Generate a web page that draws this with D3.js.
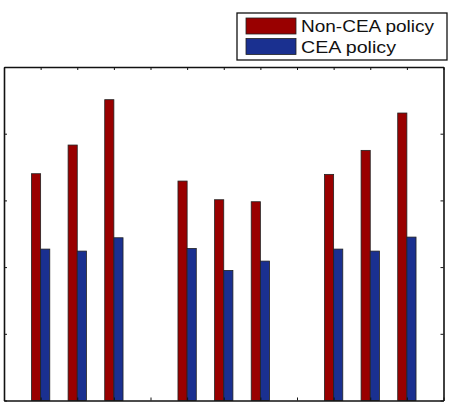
<!DOCTYPE html>
<html><head><meta charset="utf-8">
<script src="https://cdn.jsdelivr.net/npm/d3@7"></script>
<style>html,body{margin:0;padding:0;background:#fff;}</style>
</head><body>
<svg id="c" width="451" height="408"></svg>
<script>
const positions = [1,2,3,5,6,7,9,10,11];
const nonCEA = [3.40,3.83,4.51,3.29,3.01,2.98,3.39,3.75,4.31];
const cea    = [2.27,2.24,2.44,2.28,1.95,2.09,2.27,2.24,2.45];
const seriesNames = ["Non-CEA policy","CEA policy"];
const seriesColors = ["#990000","#1a3090"];
const xTicks = d3.range(0,13);
const yTicks = [0,1,2,3,4,5];

const svg = d3.select("#c");
const x = d3.scaleLinear().domain([0,12]).range([4,443.5]);
const y = d3.scaleLinear().domain([0,5]).range([400.5,67]);
const bw = x(0.25)-x(0);

const g = svg.append("g");
positions.forEach((p,i)=>{
  g.append("rect").attr("x",x(p)-bw).attr("y",y(nonCEA[i])).attr("width",bw)
   .attr("height",y(0)-y(nonCEA[i])).attr("fill",seriesColors[0]).attr("stroke","#222").attr("stroke-width",0.8);
  g.append("rect").attr("x",x(p)).attr("y",y(cea[i])).attr("width",bw)
   .attr("height",y(0)-y(cea[i])).attr("fill",seriesColors[1]).attr("stroke","#222").attr("stroke-width",0.8);
});

const ts = 3;
const axB = d3.axisBottom(x).tickValues(xTicks).tickFormat("").tickSizeInner(-ts).tickSizeOuter(0);
const axT = d3.axisTop(x).tickValues(xTicks).tickFormat("").tickSizeInner(-ts).tickSizeOuter(0);
const axL = d3.axisLeft(y).tickValues(yTicks).tickFormat("").tickSizeInner(-ts).tickSizeOuter(0);
const axR = d3.axisRight(y).tickValues(yTicks).tickFormat("").tickSizeInner(-ts).tickSizeOuter(0);
[[axB,`translate(0,${y(0)})`],[axT,`translate(0,${y(5)})`],[axL,`translate(${x(0)},0)`],[axR,`translate(${x(12)},0)`]].forEach(([a,t])=>{
  const s = svg.append("g").attr("transform",t).call(a);
  s.select(".domain").attr("stroke","#111").attr("stroke-width",1.6);
  s.selectAll(".tick line").attr("stroke","#111").attr("stroke-width",1);
});

// legend
const lg = svg.append("g");
lg.append("rect").attr("x",237).attr("y",13).attr("width",210).attr("height",47)
  .attr("fill","#fff").attr("stroke","#111").attr("stroke-width",1.3);
seriesNames.forEach((n,i)=>{
  lg.append("rect").attr("x",246).attr("y",18+i*20.5).attr("width",50).attr("height",16)
    .attr("fill",seriesColors[i]).attr("stroke","#222").attr("stroke-width",0.8);
  lg.append("text").attr("x",301).attr("y",31.5+i*21.5)
    .attr("font-family","Liberation Sans, Arial, sans-serif").attr("font-size",16)
    .attr("textLength", i===0?133:95).attr("lengthAdjust","spacingAndGlyphs")
    .attr("fill","#111").text(n);
});
</script>
</body></html>
